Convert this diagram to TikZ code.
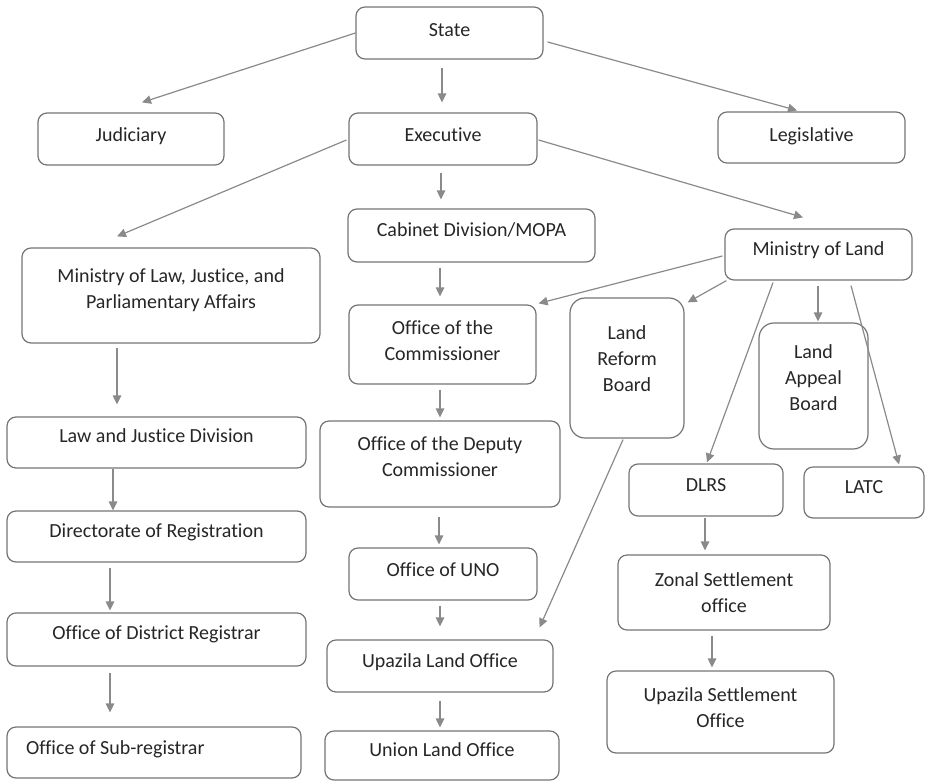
\documentclass[tikz,border=0pt]{standalone}
\usepackage{fontspec}
\setmainfont{Carlito}[Ligatures={NoCommon}]
\usetikzlibrary{arrows.meta}
\definecolor{boxline}{HTML}{747474}
\definecolor{arrline}{HTML}{8A8A8A}
\definecolor{ink}{HTML}{262626}
\begin{document}
\begin{tikzpicture}[x=1pt,y=-1pt,
  box/.style={draw=boxline,line width=1.2pt,rounded corners=9pt,inner sep=0pt},
  roundbox/.style={box,rounded corners=15pt},
  lbl/.style={text=ink,font=\fontsize{20}{26}\selectfont,align=center,inner sep=0pt},
  one/.style={lbl,text height=13pt,text depth=4pt},
  arr/.style={draw=arrline,line width=1.2pt,-{Triangle[length=9pt,width=8.5pt]}}]
\useasboundingbox (0,0) rectangle (925,781);
% boxes: \node at (centre) with width and height
\newcommand{\orgbox}[6][box]{\node[#1,minimum width=#5pt,minimum height=#6pt] (#2) at (#3,#4) {};}
\orgbox{state}{449.5}{33}{187}{52}
\orgbox{jud}{131}{139}{186}{52}
\orgbox{exec}{443}{139}{188}{52}
\orgbox{leg}{811.5}{137.5}{187}{51}
\orgbox{cab}{471.5}{235.5}{247}{53}
\orgbox{mland}{818.5}{254.5}{187}{51}
\orgbox{mlaw}{171}{295.5}{298}{95}
\orgbox{comm}{442.5}{344.5}{187}{79}
\orgbox{dep}{440}{464}{240}{86}
\orgbox{ljd}{156.5}{442.5}{299}{51}
\orgbox{dir}{156.5}{536.5}{299}{51}
\orgbox[roundbox]{lrb}{627}{368}{114}{140}
\orgbox[roundbox]{lab}{813.5}{386}{109}{126}
\orgbox{dlrs}{706}{490}{154}{52}
\orgbox{latc}{864}{492.5}{120}{51}
\orgbox{uno}{443}{574}{188}{52}
\orgbox{dist}{156.5}{639.5}{299}{53}
\orgbox{sub}{154}{752.5}{294}{51}
\orgbox{ulo}{440}{666}{226}{52}
\orgbox{union}{442}{755.5}{234}{49}
\orgbox{zonal}{724}{592.5}{212}{75}
\orgbox{usett}{720.5}{712}{227}{82}
% labels
\node[one] (state-t) at (449.5,32) {State};
\node[one] (jud-t) at (131,137) {Judiciary};
\node[one] (exec-t) at (443,137) {Executive};
\node[one] (leg-t) at (811.5,137) {Legislative};
\node[one] (cab-t) at (471.5,232) {Cabinet Division/MOPA};
\node[one] (mland-t) at (818.5,251) {Ministry of Land};
\node[lbl] (mlaw-t) at (171,290) {Ministry of Law, Justice, and\\Parliamentary Affairs};
\node[lbl] (comm-t) at (442.5,341) {Office of the\\Commissioner};
\node[lbl] (dep-t) at (440,457) {Office of the Deputy\\Commissioner};
\node[one] (ljd-t) at (156.5,438) {Law and Justice Division};
\node[one] (dir-t) at (156.5,533) {Directorate of Registration};
\node[lbl] (lrb-t) at (627,359) {Land\\Reform\\Board};
\node[lbl] (lab-t) at (813.5,378) {Land\\Appeal\\Board};
\node[one] (dlrs-t) at (706,487) {DLRS};
\node[one] (latc-t) at (864,489) {LATC};
\node[one] (uno-t) at (443,572) {Office of UNO};
\node[one] (dist-t) at (156.5,635) {Office of District Registrar};
\node[one,anchor=west] (sub-t) at (26,750) {Office of Sub-registrar};
\node[one] (ulo-t) at (440,663) {Upazila Land Office};
\node[one] (union-t) at (442,752) {Union Land Office};
\node[lbl] (zonal-t) at (724,592.5) {Zonal Settlement\\office};
\node[lbl] (usett-t) at (720.5,708) {Upazila Settlement\\Office};
% connectors
\draw[arr] (state.west) -- ([xshift=11pt,yshift=10pt]jud.north);
\draw[arr] ([xshift=-7.5pt,yshift=-8pt]state.south) -- ([xshift=-1pt,yshift=10pt]exec.north);
\draw[arr] ([xshift=4pt,yshift=-9pt]state.east) -- ([xshift=-14.5pt,yshift=1pt]leg.north);
\draw[arr] ([xshift=-2pt,yshift=-1pt]exec.west) -- ([xshift=-54pt,yshift=11pt]mlaw.north);
\draw[arr] ([xshift=-2pt,yshift=-7pt]exec.south) -- ([xshift=-30.5pt,yshift=9pt]cab.north);
\draw[arr] ([xshift=1pt,yshift=-1pt]exec.east) -- ([xshift=-15.5pt,yshift=11pt]mland.north);
\draw[arr] ([xshift=-31.5pt,yshift=-5pt]cab.south) -- ([xshift=-2.5pt,yshift=8pt]comm.north);
\draw[arr] ([xshift=-2.5pt,yshift=-5pt]comm.south) -- ([yshift=3pt]dep.north);
\draw[arr] ([xshift=-1pt,yshift=-9pt]dep.south) -- ([xshift=-4pt,yshift=3pt]uno.north);
\draw[arr] ([xshift=-3pt,yshift=-5pt]uno.south) -- ([yshift=13pt]ulo.north);
\draw[arr] ([yshift=-8pt]ulo.south) -- ([xshift=-2pt,yshift=3pt]union.north);
\draw[arr] ([xshift=-54pt,yshift=-4pt]mlaw.south) -- ([xshift=-39.5pt,yshift=12pt]ljd.north);
\draw[arr] ([xshift=-43.5pt]ljd.south) -- ([xshift=-43.5pt]dir.north);
\draw[arr] ([xshift=-46.5pt,yshift=-5pt]dir.south) -- ([xshift=-46.5pt,yshift=2pt]dist.north);
\draw[arr] ([xshift=-46.5pt,yshift=-6pt]dist.south) -- ([xshift=-44pt,yshift=14pt]sub.north);
\draw[arr] ([xshift=-2pt,yshift=-1.5pt]mland.west) -- ([xshift=2pt,yshift=1pt]comm.north east);
\draw[arr] ([xshift=2pt]mland.south west) -- ([xshift=3pt,yshift=-5pt]lrb.north east);
\draw[arr] ([xshift=-45.5pt,yshift=-2pt]mland.south) -- ([xshift=1pt,yshift=1pt]dlrs.north);
\draw[arr] ([xshift=-0.5pt,yshift=-5pt]mland.south) -- ([xshift=4.5pt,yshift=1pt]lab.north);
\draw[arr] ([xshift=32.5pt,yshift=-5pt]mland.south) -- ([xshift=35pt,yshift=2pt]latc.north);
\draw[arr] ([xshift=-4pt,yshift=-1pt]lrb.south) -- ([xshift=-14pt,yshift=12pt]ulo.north east);
\draw[arr] ([xshift=-1pt,yshift=-1pt]dlrs.south) -- ([xshift=-19pt,yshift=4pt]zonal.north);
\draw[arr] ([xshift=-12pt,yshift=-5pt]zonal.south) -- ([xshift=-8.5pt,yshift=3pt]usett.north);
\end{tikzpicture}
\end{document}
